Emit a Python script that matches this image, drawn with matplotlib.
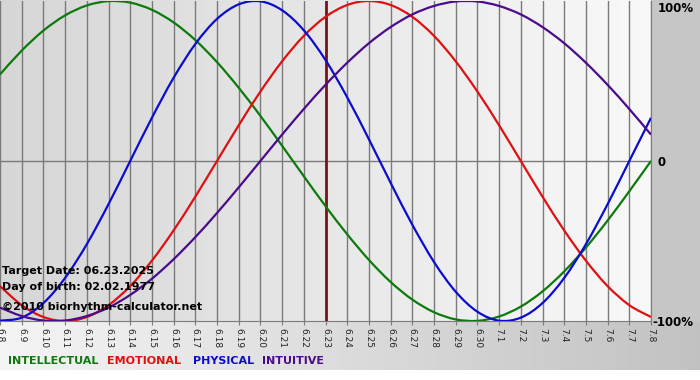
import numpy as np
import matplotlib
matplotlib.use('Agg')
import matplotlib.pyplot as plt
from matplotlib.path import Path
from matplotlib.patches import PathPatch

####################################################################################################
# days shown on the chart
days = ['6.8', '6.9', '6.10', '6.11', '6.12', '6.13', '6.14', '6.15', '6.16', '6.17', '6.18',
        '6.19', '6.20', '6.21', '6.22', '6.23', '6.24', '6.25', '6.26', '6.27', '6.28', '6.29',
        '6.30', '7.1', '7.2', '7.3', '7.4', '7.5', '7.6', '7.7', '7.8']
target_day = '6.23'

# cycle values, -1 .. 1
physical = [-0.998, -0.979, -0.888, -0.731, -0.520, -0.270, 0.000, 0.270, 0.520, 0.731, 0.888,
            0.979, 0.998, 0.942, 0.817, 0.631, 0.398, 0.136, -0.136, -0.398, -0.631, -0.817,
            -0.942, -0.998, -0.979, -0.888, -0.731, -0.520, -0.270, 0.000, 0.270]
emotional = [-0.782, -0.901, -0.975, -1.000, -0.975, -0.901, -0.782, -0.623, -0.434, -0.223, 0.000,
             0.223, 0.434, 0.623, 0.782, 0.901, 0.975, 1.000, 0.975, 0.901, 0.782, 0.623,
             0.434, 0.223, 0.000, -0.223, -0.434, -0.623, -0.782, -0.901, -0.975]
intellectual = [0.541, 0.690, 0.815, 0.910, 0.972, 0.999, 0.990, 0.945, 0.866, 0.756, 0.618,
                0.458, 0.282, 0.095, -0.095, -0.282, -0.458, -0.618, -0.756, -0.866, -0.945, -0.990,
                -0.999, -0.972, -0.910, -0.815, -0.690, -0.541, -0.372, -0.189, 0.000]
intuitive = [-0.916, -0.969, -0.997, -0.997, -0.969, -0.916, -0.837, -0.736, -0.614, -0.476, -0.325,
             -0.165, 0.000, 0.165, 0.325, 0.476, 0.614, 0.736, 0.837, 0.916, 0.969, 0.997,
             0.997, 0.969, 0.916, 0.837, 0.736, 0.614, 0.476, 0.325, 0.165]

names = ['INTELLECTUAL', 'EMOTIONAL', 'PHYSICAL', 'INTUITIVE']
colors = ['#0c7a0c', '#e01010', '#0c0cd0', '#4a0c8a']

####################################################################################################
def smooth_path(xs, ys):
    # catmull-rom style bezier through the daily points (drawing only)
    p = np.column_stack([xs, ys]).astype(float)
    ext = np.vstack([p[0], p, p[-1]])
    verts = [p[0]]
    codes = [Path.MOVETO]
    for i in range(len(p) - 1):
        p0, p1, p2, p3 = ext[i], ext[i + 1], ext[i + 2], ext[i + 3]
        verts += [p1 + (p2 - p0) / 6, p2 - (p3 - p1) / 6, p2]
        codes += [Path.CURVE4] * 3
    return Path(verts, codes)


W, H = 700, 380
fig = plt.figure(figsize=(W / 100, H / 100), dpi=100)

# background picture: plot gradient, grey side panel, bottom band
bg = np.ones((H, W, 3))
left_w = 651
bg[:322, :left_w] = np.linspace(0.84, 0.975, left_w)[None, :, None]
bg[:322, left_w:] = 0.78
bg[322:370, :] = np.linspace(0.96, 0.76, W)[None, :, None]
fig.figimage(bg, xo=0, yo=0, origin='upper', zorder=-10)

ax = fig.add_axes([0, 59 / H, left_w / W, 320 / H])
ax.patch.set_alpha(0)

x = np.arange(len(days))
ax.grid(axis='x', color='#7a7a7a', lw=1)
ax.axhline(0, color='#7a7a7a', lw=1)
ax.axvline(days.index(target_day), color='#7a1515', lw=2, zorder=3)

for vals, c in zip([intellectual, emotional, physical, intuitive], colors):
    ax.add_patch(PathPatch(smooth_path(x, vals), fill=False, edgecolor=c, lw=1.6, zorder=4))

ax.set_xlim(0, len(days) - 1)
ax.set_ylim(-1, 1)
ax.set_yticks([])
ax.set_xticks(x)
ax.set_xticklabels(days, rotation=-90, fontsize=6.5, color='#222222')
ax.tick_params(axis='x', length=3, color='#7a7a7a', pad=2)
for s in ['top', 'left']:
    ax.spines[s].set_visible(False)
for s in ['bottom', 'right']:
    ax.spines[s].set_color('#7a7a7a')

def px(xp, yp):
    return xp / W, 1 - yp / H

# right scale labels
fig.text(*px(658, 8), '100%', fontsize=8.5, fontweight='bold', va='center', ha='left')
fig.text(*px(658, 162), '0', fontsize=8.5, fontweight='bold', va='center', ha='left')
fig.text(*px(652, 322), '-100%', fontsize=8.5, fontweight='bold', va='center', ha='left')

# info text
fig.text(*px(2, 271), 'Target Date: 06.23.2025', fontsize=8, fontweight='bold', va='center')
fig.text(*px(2, 287), 'Day of birth: 02.02.1977', fontsize=8, fontweight='bold', va='center')
fig.text(*px(2, 307), '©2010 biorhythm-calculator.net', fontsize=8, fontweight='bold', va='center')

# legend
for name, c, xp in zip(names, colors, [8, 107, 193, 262]):
    fig.text(*px(xp, 361), name, fontsize=8, fontweight='bold', color=c, va='center')

fig.savefig('out.png', dpi=100)
